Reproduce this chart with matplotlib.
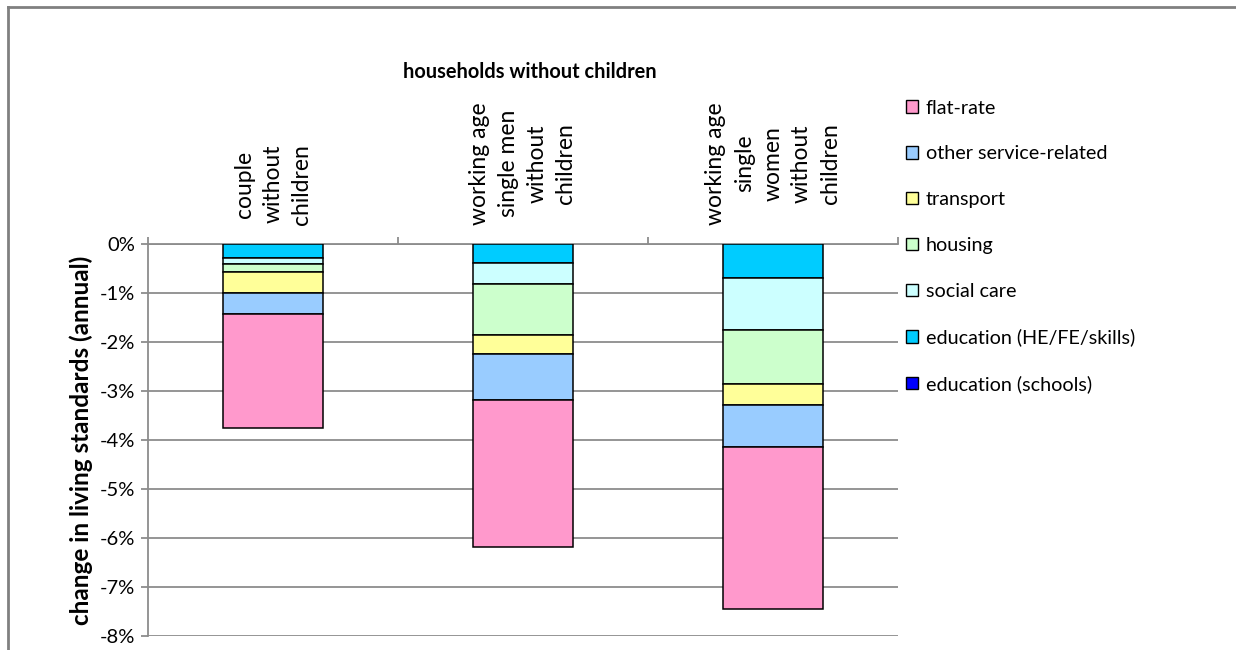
import matplotlib.pyplot as plt
from matplotlib.lines import Line2D
from matplotlib.patches import Patch

plt.rcParams['font.family'] = ['Lato', 'DejaVu Sans']

categories = ['couple\nwithout\nchildren',
              'working age\nsingle men\nwithout\nchildren',
              'working age\nsingle\nwomen\nwithout\nchildren']

# change in living standards, % per year (stacked from 0 downward)
schools = [0.0, 0.0, 0.0]
he_fe_skills = [-0.28, -0.39, -0.69]
social_care = [-0.13, -0.43, -1.06]
housing = [-0.16, -1.03, -1.10]
transport = [-0.43, -0.40, -0.43]
other_service = [-0.43, -0.94, -0.87]
flat_rate = [-2.33, -2.99, -3.30]

series = [
    ('education (schools)', schools, '#0000FF'),
    ('education (HE/FE/skills)', he_fe_skills, '#00CCFF'),
    ('social care', social_care, '#CCFFFF'),
    ('housing', housing, '#CCFFCC'),
    ('transport', transport, '#FFFF99'),
    ('other service-related', other_service, '#99CCFF'),
    ('flat-rate', flat_rate, '#FF99CC'),
]

fig = plt.figure(figsize=(12.36, 6.5), dpi=100)
ax = fig.add_axes([0.1197, 0.0215, 0.6068, 0.6031])

x = list(range(len(categories)))
base = [0.0] * len(categories)
handles = []
for name, vals, col in series:
    ax.bar(x, vals, width=0.4, bottom=base, color=col, edgecolor='black', linewidth=1.1, zorder=3)
    base = [b + v for b, v in zip(base, vals)]
    handles.append(Patch(facecolor=col, edgecolor='black', linewidth=1.0, label=name))

ax.set_xlim(-0.5, 2.5)
ax.set_ylim(-8, 0)
ax.set_yticks(range(-8, 1))
ax.set_yticklabels([f'{v}%' for v in range(-8, 1)], fontsize=14.5)
ax.yaxis.grid(True, color='#8c8c8c', linewidth=1.3, zorder=0)
ax.tick_params(axis='y', length=5, width=1.3, color='#8c8c8c', pad=4)

for s in ['right', 'bottom']:
    ax.spines[s].set_visible(False)
for s in ['left', 'top']:
    ax.spines[s].set_color('#8c8c8c')
    ax.spines[s].set_linewidth(1.3)

# category boundaries marked on the top axis
ax.xaxis.tick_top()
ax.set_xticks([])
ax.set_xticks([-0.5, 0.5, 1.5, 2.5], minor=True)
ax.tick_params(axis='x', which='minor', length=5, width=1.3, color='#8c8c8c', direction='out')

for xi, lab in zip(x, categories):
    ax.annotate(lab, (xi, 0), xytext=(0, 14), textcoords='offset points', rotation=90,
                ha='center', va='bottom', multialignment='center', fontsize=16.5,
                linespacing=1.45, annotation_clip=False)

ax.set_ylabel('change in living standards (annual)', fontsize=17.5, fontweight='bold', labelpad=5)
fig.text(0.429, 0.889, 'households without children', ha='center', va='center',
         fontsize=14.4, fontweight='bold')

ax.legend(handles=handles[::-1], loc='upper left', bbox_to_anchor=(0.7265, 0.859),
          bbox_transform=fig.transFigure, frameon=False, fontsize=14.2,
          handlelength=0.6, handleheight=0.6, handletextpad=0.4, labelspacing=1.46,
          borderaxespad=0)

# outer chart frame
frame = '#808080'
fig.add_artist(Line2D([0.0065, 1.0], [0.989, 0.989], color=frame, linewidth=2, transform=fig.transFigure))
fig.add_artist(Line2D([0.0065, 0.0065], [0.0, 0.989], color=frame, linewidth=2, transform=fig.transFigure))

fig.savefig('out.png', dpi=100)
